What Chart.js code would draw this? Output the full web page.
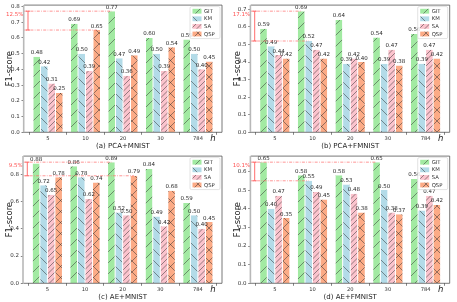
<!DOCTYPE html>
<html><head><meta charset="utf-8">
<script src="https://cdn.jsdelivr.net/npm/chart.js@4/dist/chart.umd.min.js"></script>
<style>
html,body{margin:0;padding:0;background:#fff;}
#wrap{position:relative;width:457px;height:302px;overflow:hidden;background:#fff;}
canvas{position:absolute;}
</style></head><body>
<div id="wrap">
<canvas id="ca" width="228" height="151" style="left:0px;top:0px;width:228px;height:151px"></canvas>
<canvas id="cb" width="229" height="151" style="left:228px;top:0px;width:229px;height:151px"></canvas>
<canvas id="cc" width="228" height="151" style="left:0px;top:151px;width:228px;height:151px"></canvas>
<canvas id="cd" width="229" height="151" style="left:228px;top:151px;width:229px;height:151px"></canvas>
</div>
<script>
// ---- data ----
const categories = ['5', '10', '20', '30', '784'];
const seriesNames = ['GIT', 'KM', 'SA', 'QSP'];

const pcaMnistGIT = [0.48, 0.69, 0.77, 0.60, 0.59];
const pcaMnistKM  = [0.42, 0.50, 0.47, 0.50, 0.50];
const pcaMnistSA  = [0.31, 0.39, 0.36, 0.39, 0.40];
const pcaMnistQSP = [0.25, 0.65, 0.49, 0.54, 0.45];

const pcaFmnistGIT = [0.59, 0.69, 0.64, 0.54, 0.56];
const pcaFmnistKM  = [0.49, 0.52, 0.39, 0.39, 0.39];
const pcaFmnistSA  = [0.44, 0.47, 0.42, 0.47, 0.47];
const pcaFmnistQSP = [0.42, 0.42, 0.40, 0.38, 0.42];

const aeMnistGIT = [0.88, 0.86, 0.89, 0.84, 0.59];
const aeMnistKM  = [0.72, 0.78, 0.52, 0.49, 0.50];
const aeMnistSA  = [0.65, 0.62, 0.50, 0.42, 0.40];
const aeMnistQSP = [0.78, 0.74, 0.79, 0.68, 0.45];

const aeFmnistGIT = [0.65, 0.58, 0.58, 0.65, 0.56];
const aeFmnistKM  = [0.40, 0.55, 0.53, 0.50, 0.39];
const aeFmnistSA  = [0.47, 0.49, 0.48, 0.38, 0.47];
const aeFmnistQSP = [0.35, 0.45, 0.38, 0.37, 0.42];

const yTicksA = [0.0, 0.1, 0.2, 0.3, 0.4, 0.5, 0.6, 0.7, 0.8];
const yTicksB = [0.0, 0.1, 0.2, 0.3, 0.4, 0.5, 0.6, 0.7];
const yTicksC = [0.0, 0.2, 0.4, 0.6, 0.8];
const yTicksD = [0.0, 0.1, 0.2, 0.3, 0.4, 0.5, 0.6];

const captions = ['(a) PCA+MNIST', '(b) PCA+FMNIST', '(c) AE+MNIST', '(d) AE+FMNIST'];
// improvement annotations: label, [series, category] of top bar, [series, category] of bottom bar
const gainLabels = ['12.5%', '17.1%', '9.5%', '10.1%'];
const gainTop = [[0, 2], [0, 1], [0, 2], [0, 3]];
const gainBottom = [[3, 1], [1, 1], [3, 2], [1, 1]];

// ---- styles ----
const FONT = "'DejaVu Sans', sans-serif";
const fills = ['#a2eaa2', '#b3dbe8', '#fbc3cd', '#fcab86'];
const hatchKinds = [['/', 1], ['\\', 1], ['/', 2], ['x', 1]];
const HATCH_SIZE = 11;

function makePattern(ctx, bg, kind, n) {
  const S = HATCH_SIZE;
  const c = document.createElement('canvas');
  c.width = S; c.height = S;
  const g = c.getContext('2d');
  g.fillStyle = bg; g.fillRect(0, 0, S, S);
  g.strokeStyle = 'rgba(45,45,45,0.72)';
  g.lineWidth = 0.7;
  const d = S / n;
  if (kind === '/' || kind === 'x') {
    for (let cc = 0; cc <= 2 * S + 0.01; cc += d) {
      g.beginPath(); g.moveTo(cc + 1, -1); g.lineTo(cc - S - 1, S + 1); g.stroke();
    }
  }
  if (kind === '\\' || kind === 'x') {
    for (let cc = -S; cc <= S + 0.01; cc += d) {
      g.beginPath(); g.moveTo(cc - 1, -1); g.lineTo(cc + S + 1, S + 1); g.stroke();
    }
  }
  return ctx.createPattern(c, 'repeat');
}

const decor = {
  id: 'decor',
  afterDatasetsDraw(chart) {
    const ctx = chart.ctx;
    const ca = chart.chartArea;
    const o = chart.options.plugins.decor;
    // value labels
    ctx.save();
    ctx.font = '5.5px ' + FONT;
    ctx.fillStyle = '#2a2a2a';
    ctx.textAlign = 'center';
    ctx.textBaseline = 'bottom';
    chart.data.datasets.forEach((ds, k) => {
      const meta = chart.getDatasetMeta(k);
      meta.data.forEach((bar, i) => {
        ctx.fillText(ds.data[i].y.toFixed(2), bar.x, bar.y - 1.2);
      });
    });
    ctx.restore();
    // gain annotation
    const tb = chart.getDatasetMeta(o.top[0]).data[o.top[1]];
    const bb = chart.getDatasetMeta(o.bottom[0]).data[o.bottom[1]];
    ctx.save();
    ctx.strokeStyle = '#ff6a6a';
    ctx.lineWidth = 0.7;
    ctx.setLineDash([3, 1.3, 0.8, 1.3]);
    ctx.beginPath(); ctx.moveTo(ca.left, tb.y); ctx.lineTo(tb.x, tb.y); ctx.stroke();
    ctx.beginPath(); ctx.moveTo(ca.left, bb.y); ctx.lineTo(bb.x, bb.y); ctx.stroke();
    ctx.setLineDash([]);
    ctx.strokeStyle = '#ff5c5c';
    ctx.lineWidth = 0.9;
    const vx = ca.left + 4;
    ctx.beginPath();
    ctx.moveTo(vx, tb.y); ctx.lineTo(vx, bb.y);
    ctx.moveTo(vx - 2, tb.y); ctx.lineTo(vx + 2, tb.y);
    ctx.moveTo(vx - 2, bb.y); ctx.lineTo(vx + 2, bb.y);
    ctx.stroke();
    ctx.fillStyle = '#ff5050';
    ctx.font = '5.5px ' + FONT;
    ctx.textAlign = 'right';
    ctx.textBaseline = 'middle';
    ctx.fillText(o.gain, ca.left - 0.5, tb.y + 3);
    ctx.restore();
  },
  afterDraw(chart) {
    const ctx = chart.ctx;
    const ca = chart.chartArea;
    const o = chart.options.plugins.decor;
    ctx.save();
    // frame
    ctx.strokeStyle = '#555';
    ctx.lineWidth = 0.8;
    ctx.beginPath();
    ctx.moveTo(ca.left, ca.top); ctx.lineTo(ca.right, ca.top); ctx.lineTo(ca.right, ca.bottom); ctx.lineTo(ca.left, ca.bottom);
    ctx.stroke();
    ctx.strokeStyle = '#b8b8b8';
    ctx.lineWidth = 1.6;
    ctx.beginPath(); ctx.moveTo(ca.left - 0.3, ca.top); ctx.lineTo(ca.left - 0.3, ca.bottom); ctx.stroke();
    // legend
    const bw = 30, bh = 32;
    const bx = ca.right - bw - 2, by = ca.top + 1.5;
    ctx.fillStyle = 'rgba(255,255,255,0.85)';
    ctx.strokeStyle = '#d0d0d0';
    ctx.lineWidth = 0.6;
    ctx.beginPath();
    if (ctx.roundRect) ctx.roundRect(bx, by, bw, bh, 1.5); else ctx.rect(bx, by, bw, bh);
    ctx.fill(); ctx.stroke();
    ctx.font = '5.3px ' + FONT;
    ctx.textAlign = 'left';
    ctx.textBaseline = 'middle';
    chart.data.datasets.forEach((ds, k) => {
      const ry = by + 4.6 + k * 7.6;
      ctx.fillStyle = ds.backgroundColor;
      ctx.fillRect(bx + 2.5, ry - 2.4, 9, 4.8);
      ctx.fillStyle = '#333';
      ctx.fillText(ds.label, bx + 14, ry + 0.2);
    });
    // y label
    ctx.fillStyle = '#222';
    ctx.font = '8.3px ' + FONT;
    ctx.textAlign = 'center';
    ctx.textBaseline = 'middle';
    ctx.translate(o.yLabelX, (ca.top + ca.bottom) / 2);
    ctx.rotate(-Math.PI / 2);
    ctx.fillText('F1-score', 0, 0);
    ctx.restore();
    ctx.save();
    // caption
    ctx.fillStyle = '#222';
    ctx.font = '7px ' + FONT;
    ctx.textAlign = 'center';
    ctx.textBaseline = 'middle';
    ctx.fillText(o.caption, (ca.left + ca.right) / 2, ca.bottom + 13.8);
    // h
    ctx.font = 'italic 8.5px ' + FONT;
    ctx.fillText('h', ca.right - 9, ca.bottom + 6.5);
    ctx.restore();
  }
};

function makeChart(id, vals, yTicks, lay, idx) {
  const canvas = document.getElementById(id);
  const ctx = canvas.getContext('2d');
  const allVals = [].concat(...vals);
  const yMax = Math.max(...allVals) * 1.05;
  const datasets = seriesNames.map((name, k) => ({
    label: name,
    data: vals[k].map((v, i) => ({ x: i, y: v })),
    backgroundColor: makePattern(ctx, fills[k], hatchKinds[k][0], hatchKinds[k][1]),
    borderColor: '#ffffff',
    borderWidth: { left: 0.5, right: 0.5, top: 0, bottom: 0 },
    categoryPercentage: 0.8,
    barPercentage: 1.0
  }));
  return new Chart(ctx, {
    type: 'bar',
    data: { datasets },
    options: {
      animation: false,
      responsive: false,
      devicePixelRatio: 1,
      layout: { padding: { left: 0, right: lay.padR, top: lay.padT, bottom: 0 } },
      plugins: {
        legend: { display: false },
        tooltip: { enabled: false },
        decor: {
          caption: captions[idx], gain: gainLabels[idx], top: gainTop[idx], bottom: gainBottom[idx], yLabelX: 9.5
        }
      },
      scales: {
        x: {
          type: 'linear', min: -0.64, max: 4.64, offset: false,
          afterBuildTicks: ax => { ax.ticks = categories.map((c, i) => ({ value: i })); },
          afterFit: ax => { ax.height = lay.xH; },
          ticks: {
            callback: v => categories[v],
            font: { family: FONT, size: 5.2 }, color: '#333', padding: 1,
            maxRotation: 0, minRotation: 0, autoSkip: false
          },
          grid: { drawOnChartArea: false, drawTicks: true, tickLength: 2.5, color: '#333', lineWidth: 0.6 },
          border: { display: false }
        },
        y: {
          type: 'linear', min: 0, max: yMax,
          afterBuildTicks: ax => { ax.ticks = yTicks.map(v => ({ value: v })); },
          afterFit: ax => { ax.width = lay.yW; },
          ticks: {
            callback: v => Number(v).toFixed(1),
            font: { family: FONT, size: 5.5 }, color: '#333', padding: 1.8
          },
          grid: { drawOnChartArea: false, drawTicks: true, tickLength: 2.5, color: '#333', lineWidth: 0.6 },
          border: { display: false }
        }
      }
    },
    plugins: [decor]
  });
}

makeChart('ca', [pcaMnistGIT, pcaMnistKM, pcaMnistSA, pcaMnistQSP], yTicksA, { yW: 24, padR: 6, padT: 5, xH: 18.7 }, 0);
makeChart('cb', [pcaFmnistGIT, pcaFmnistKM, pcaFmnistSA, pcaFmnistQSP], yTicksB, { yW: 22.7, padR: 7.3, padT: 4.7, xH: 18.7 }, 1);
makeChart('cc', [aeMnistGIT, aeMnistKM, aeMnistSA, aeMnistQSP], yTicksC, { yW: 23.3, padR: 6, padT: 3, xH: 18.7 }, 2);
makeChart('cd', [aeFmnistGIT, aeFmnistKM, aeFmnistSA, aeFmnistQSP], yTicksD, { yW: 22.7, padR: 7.3, padT: 3.7, xH: 18.7 }, 3);
</script>
</body></html>
